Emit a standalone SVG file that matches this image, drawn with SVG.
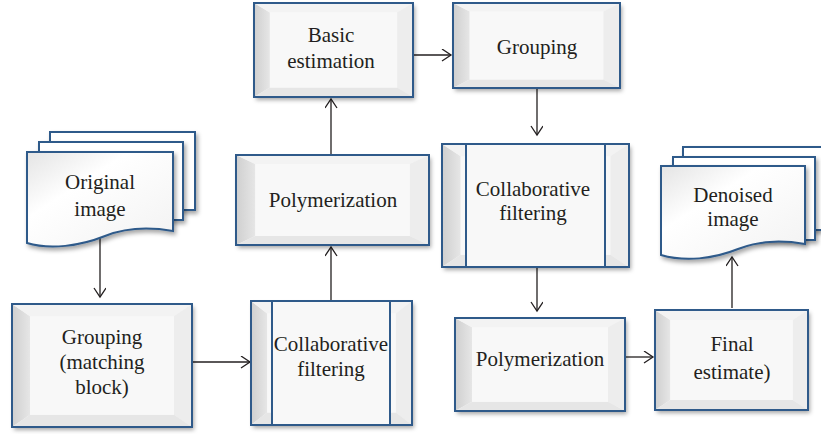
<svg xmlns="http://www.w3.org/2000/svg" width="821" height="434" viewBox="0 0 821 434">
<style>
.t{font-family:'Liberation Serif','DejaVu Serif',serif;font-size:21px;fill:#231f20;text-anchor:middle}
.bd{fill:none;stroke:#2f5a8a;stroke-width:2}
.sh{fill:#fff;stroke:#2f5a8a;stroke-width:2}
.c{stroke:#231f20;stroke-width:1.3;fill:none}
.mid{fill:#f8f8f8}
</style>
<defs>
<filter id="ds" x="-10%" y="-10%" width="125%" height="130%">
<feDropShadow dx="2" dy="3" stdDeviation="2" flood-color="#000" flood-opacity="0.35"/>
</filter>
<linearGradient id="lg" x1="0" y1="0" x2="1" y2="0">
<stop offset="0" stop-color="#cfcfcf"/><stop offset="1" stop-color="#e6e6e6"/>
</linearGradient>
<linearGradient id="dg" x1="0" y1="0" x2="1" y2="1">
<stop offset="0" stop-color="#e4e4e4"/><stop offset="0.35" stop-color="#ffffff"/><stop offset="1" stop-color="#f2f2f2"/>
</linearGradient>
<symbol id="bevel" viewBox="0 0 100 100" preserveAspectRatio="none">
<rect x="0" y="0" width="100" height="100" fill="#f7f7f7"/>
<polygon points="0,0 10,10 10,90 0,100" fill="url(#lg)"/>
<polygon points="0,0 100,0 90,10 10,10" fill="#f3f3f3"/>
<polygon points="100,0 100,100 90,90 90,10" fill="#ededed"/>
<polygon points="0,100 100,100 90,90 10,90" fill="#e6e6e6"/>
<rect x="10" y="10" width="80" height="80" fill="#f8f8f8"/>
</symbol>
<marker id="ar" markerWidth="14" markerHeight="14" refX="10" refY="6" orient="auto" markerUnits="userSpaceOnUse">
<path d="M1,0 L10,6 L1,12" fill="none" stroke="#231f20" stroke-width="1.3"/>
</marker>
</defs>

<g id="connectors">
<line class="c" x1="100" y1="237" x2="100" y2="297" marker-end="url(#ar)"/>
<line class="c" x1="192" y1="362" x2="250" y2="362" marker-end="url(#ar)"/>
<line class="c" x1="331" y1="300" x2="331" y2="247" marker-end="url(#ar)"/>
<line class="c" x1="331" y1="155" x2="331" y2="99" marker-end="url(#ar)"/>
<line class="c" x1="413" y1="55" x2="451" y2="55" marker-end="url(#ar)"/>
<line class="c" x1="537" y1="88" x2="537" y2="135" marker-end="url(#ar)"/>
<line class="c" x1="537" y1="267" x2="537" y2="311" marker-end="url(#ar)"/>
<line class="c" x1="625" y1="357" x2="653" y2="357" marker-end="url(#ar)"/>
<line class="c" x1="732" y1="308" x2="732" y2="257" marker-end="url(#ar)"/>
</g>

<g id="original-image">
<rect class="sh" x="50" y="132" width="145" height="78" filter="url(#ds)"/>
<rect class="sh" x="39" y="142" width="144" height="78" filter="url(#ds)"/>
<path d="M27,152 H173 V231 C150,227 125,228 105,236 C80,246 50,250 27,243 Z" fill="url(#dg)" stroke="#2f5a8a" stroke-width="2" filter="url(#ds)"/>
<text class="t" x="100" y="189">Original</text>
<text class="t" x="100" y="216">image</text>
</g>

<g id="grouping-matching">
<g filter="url(#ds)"><use href="#bevel" x="12" y="304" width="180" height="123"/></g>
<rect class="bd" x="12" y="304" width="180" height="123"/>
<text class="t" x="102" y="344">Grouping</text>
<text class="t" x="102" y="369">(matching</text>
<text class="t" x="102" y="394">block)</text>
</g>

<g id="collab-1">
<g filter="url(#ds)"><use href="#bevel" x="251" y="301" width="161" height="124"/></g>
<rect class="mid" x="272" y="302" width="118" height="122"/>
<rect class="bd" x="251" y="301" width="161" height="124"/>
<line class="bd" x1="272" y1="301" x2="272" y2="425"/>
<line class="bd" x1="390" y1="301" x2="390" y2="425"/>
<text class="t" x="331" y="351">Collaborative</text>
<text class="t" x="331" y="376">filtering</text>
</g>

<g id="polymerization-1">
<g filter="url(#ds)"><use href="#bevel" x="236" y="155" width="193" height="90"/></g>
<rect class="bd" x="236" y="155" width="193" height="90"/>
<text class="t" x="333" y="207">Polymerization</text>
</g>

<g id="basic-estimation">
<g filter="url(#ds)"><use href="#bevel" x="254" y="3" width="159" height="94"/></g>
<rect class="bd" x="254" y="3" width="159" height="94"/>
<text class="t" x="331" y="42">Basic</text>
<text class="t" x="331" y="68">estimation</text>
</g>

<g id="grouping-2">
<g filter="url(#ds)"><use href="#bevel" x="453" y="3" width="167" height="85"/></g>
<rect class="bd" x="453" y="3" width="167" height="85"/>
<text class="t" x="537" y="54">Grouping</text>
</g>

<g id="collab-2">
<g filter="url(#ds)"><use href="#bevel" x="442" y="144" width="187" height="123"/></g>
<rect class="mid" x="466" y="145" width="139" height="121"/>
<rect class="bd" x="442" y="144" width="187" height="123"/>
<line class="bd" x1="466" y1="144" x2="466" y2="267"/>
<line class="bd" x1="605" y1="144" x2="605" y2="267"/>
<text class="t" x="533" y="196">Collaborative</text>
<text class="t" x="533" y="220">filtering</text>
</g>

<g id="polymerization-2">
<g filter="url(#ds)"><use href="#bevel" x="455" y="318" width="170" height="93"/></g>
<rect class="bd" x="455" y="318" width="170" height="93"/>
<text class="t" x="540" y="366">Polymerization</text>
</g>

<g id="final-estimate">
<g filter="url(#ds)"><use href="#bevel" x="655" y="310" width="153" height="100"/></g>
<rect class="bd" x="655" y="310" width="153" height="100"/>
<text class="t" x="732" y="351">Final</text>
<text class="t" x="732" y="379">estimate)</text>
</g>

<g id="denoised-image">
<rect class="sh" x="683" y="147" width="150" height="83" filter="url(#ds)"/>
<rect class="sh" x="673" y="157" width="142" height="83" filter="url(#ds)"/>
<path d="M661,166 H805 V244 C782,240 758,241 738,249 C713,259 685,262 661,255 Z" fill="url(#dg)" stroke="#2f5a8a" stroke-width="2" filter="url(#ds)"/>
<text class="t" x="733" y="202">Denoised</text>
<text class="t" x="733" y="226">image</text>
</g>
</svg>
